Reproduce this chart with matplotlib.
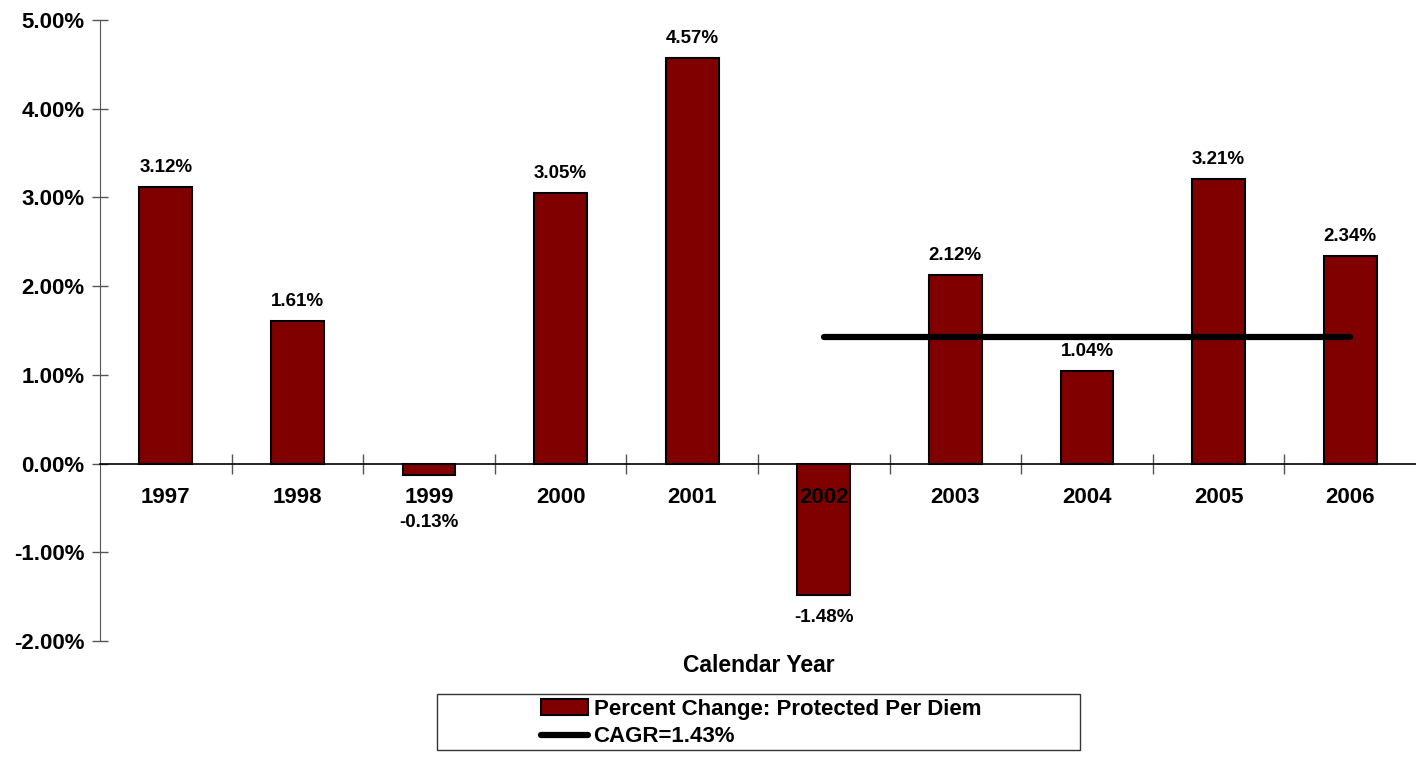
import matplotlib.pyplot as plt
import matplotlib.patches as mpatches
from matplotlib.lines import Line2D
import numpy as np

plt.rcParams['font.family'] = ['Liberation Sans', 'DejaVu Sans']
plt.rcParams['font.weight'] = 'bold'

years = ['1997', '1998', '1999', '2000', '2001', '2002', '2003', '2004', '2005', '2006']
pct_change = [3.12, 1.61, -0.13, 3.05, 4.57, -1.48, 2.12, 1.04, 3.21, 2.34]
cagr = 1.43
cagr_from, cagr_to = '2002', '2006'

fig = plt.figure(figsize=(14.16, 7.58), dpi=100)
ax = fig.add_axes([100/1416, 1 - 641/758, 1 - 100/1416, (641 - 20)/758])

x = np.arange(len(years))
ax.bar(x, pct_change, width=0.4, color='#800000', edgecolor='black', linewidth=1.5, zorder=1)

i0, i1 = years.index(cagr_from), years.index(cagr_to)
ax.plot([x[i0], x[i1]], [cagr, cagr], color='black', lw=4.5, solid_capstyle='round', zorder=3)

# value labels
for xi, v in zip(x, pct_change):
    if v >= 0:
        ax.annotate(f'{v:.2f}%', (xi, v), xytext=(0, 8), textcoords='offset points',
                    ha='center', va='bottom', fontsize=13.5, fontweight='bold')
    else:
        off = -28 if v > -0.5 else -10
        ax.annotate(f'{v:.2f}%', (xi, v), xytext=(0, off), textcoords='offset points',
                    ha='center', va='top', fontsize=13.5, fontweight='bold')

ax.set_xlim(-0.5, len(years) - 0.5)
ax.set_ylim(-2, 5)
ax.set_yticks(np.arange(-2, 6, 1))
ax.set_yticklabels([f'{t:.2f}%' for t in np.arange(-2, 6, 1)], fontsize=16, fontweight='bold')
ax.tick_params(axis='y', direction='inout', length=12, width=1, color='#555555', pad=5)

ax.spines['top'].set_visible(False)
ax.spines['right'].set_visible(False)
ax.spines['bottom'].set_position(('data', 0))
ax.spines['left'].set_color('#555555')
ax.spines['bottom'].set_linewidth(1.2)

ax.set_xticks(x)
ax.set_xticklabels(years, fontsize=16, fontweight='bold')
ax.set_xticks(x[:-1] + 0.5, minor=True)
ax.tick_params(axis='x', which='major', length=0, pad=17)
ax.tick_params(axis='x', which='minor', direction='inout', length=15, width=1, color='#555555')

fig.text(0.5357, 1 - 665/758, 'Calendar Year', ha='center', va='center', fontsize=16.5, fontweight='bold')

# legend box
fig.patches.append(mpatches.Rectangle((437/1416, 1 - 750/758), (1080 - 437)/1416, 56/758,
                                      transform=fig.transFigure, fill=False, edgecolor='#333333', lw=1))
handles = [mpatches.Patch(facecolor='#800000', edgecolor='black', lw=1.5),
           Line2D([0], [0], color='black', lw=4.5, solid_capstyle='round')]
leg = fig.legend(handles, ['Percent Change: Protected Per Diem', 'CAGR=1.43%'],
                 loc='center', bbox_to_anchor=(761/1416, 1 - 723/758), frameon=False,
                 prop={'size': 16, 'weight': 'bold'}, handlelength=2.1, handletextpad=0.27,
                 labelspacing=0.3, borderpad=0)

fig.savefig('out.png', dpi=100)
